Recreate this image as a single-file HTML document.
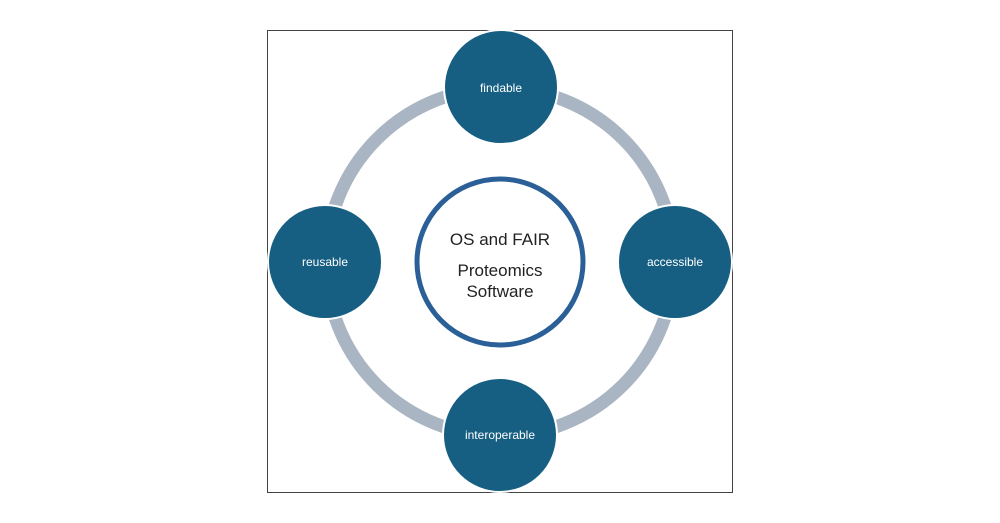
<!DOCTYPE html>
<html><head><style>body{margin:0;background:#fff}</style></head><body>
<svg width="1000" height="523" xmlns="http://www.w3.org/2000/svg" style="display:block">
<rect x="267.5" y="30.5" width="465" height="462" fill="#fff" stroke="#444" stroke-width="1"/>
<circle cx="500" cy="262" r="174" fill="none" stroke="#a9b5c3" stroke-width="13"/>
<g fill="#165f83" stroke="#fff" stroke-width="2">
<circle cx="501" cy="87" r="57"/>
<circle cx="675" cy="262" r="57"/>
<circle cx="325" cy="262" r="57"/>
<circle cx="500" cy="435" r="57"/>
</g>
<circle cx="500" cy="262" r="83" fill="#fff" stroke="#2a5f97" stroke-width="5"/>
<g font-family="Liberation Sans, sans-serif" fill="#fff" font-size="12" text-anchor="middle">
<text x="501" y="92">findable</text>
<text x="675" y="266">accessible</text>
<text x="325" y="266">reusable</text>
<text x="500" y="439">interoperable</text>
</g>
<g font-family="Liberation Sans, sans-serif" fill="#222" font-size="17" text-anchor="middle">
<text x="500" y="245">OS and FAIR</text>
<text x="500" y="276">Proteomics</text>
<text x="500" y="297">Software</text>
</g>
</svg>
</body></html>
